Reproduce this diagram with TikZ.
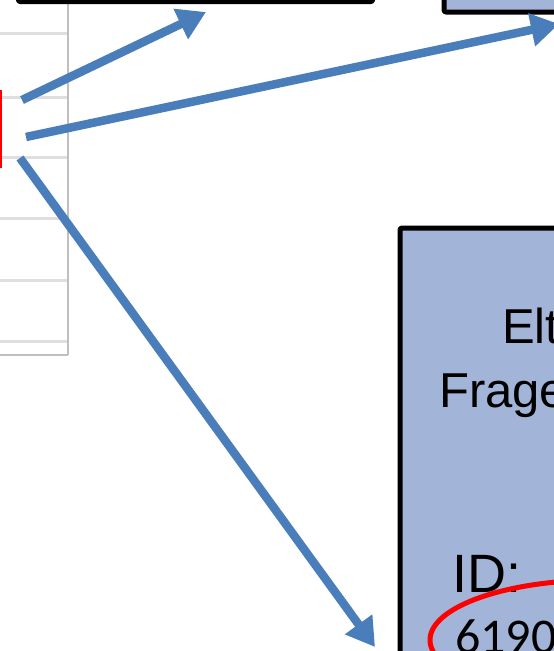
\documentclass[tikz,border=0pt]{standalone}
\usepackage{fontspec}
\setmainfont{Liberation Sans}
\newfontfamily\calibrifont{Carlito}
\usepackage{tikz}
\usetikzlibrary{arrows.meta,positioning}
\definecolor{boxblue}{HTML}{A2B4D8}
\definecolor{arrowblue}{HTML}{4A7EBB}

\begin{document}
\begin{tikzpicture}[x=1pt, y=-1pt, line join=round]
   \useasboundingbox (0,0) rectangle (554,651);
   \clip (0,0) rectangle (554,651);
   % table on the left
   \begin{scope}[gray!25, line width=3pt]
    \foreach \y in {33,97,157,218,280,341}
      \draw (0,\y) -- (68,\y);
   \end{scope}
   \draw[gray!50, line width=2pt] (0,355) -- (68,355) (68,0) -- (68,355);
   \draw[red, line width=2pt] (1,90) -- (1,168);
   % boxes
   \draw[line width=4pt, fill=white, rounded corners=2pt] (18,-20) rectangle (373,2);
   \draw[line width=5pt, fill=boxblue, rounded corners=2pt] (444,-20) rectangle (620,12);
   \draw[line width=5pt, fill=boxblue, rounded corners=2pt] (400,228) rectangle (620,700);
   \begin{scope}[every node/.style={inner sep=0pt, anchor=base west}]
    \node (elt)  at (502,343) {\fontsize{49}{49}\selectfont Elt};
    \node (frag) at (439,407) {\fontsize{49}{49}\selectfont Frage};
    \node (id)   at (452,592) {\fontsize{54}{54}\selectfont ID:};
    \node (num)  at (455,653) {\fontsize{50}{50}\selectfont\calibrifont 6190};
   \end{scope}
   \draw[red, line width=5pt] (600,640) ellipse [x radius=170pt, y radius=60pt];
   % arrows out of the cell
   \coordinate (cellA) at (22,100);
   \coordinate (cellB) at (26,137);
   \coordinate (cellC) at (20,158);
   \coordinate (topbox)   at (206,12);
   \coordinate (rightbox) at (559,24);
   \coordinate (idbox)    at (375,647);
   \begin{scope}[-{Triangle[length=28pt,width=32pt]}, every edge/.style={draw=arrowblue, line width=8.5pt}]
    \path (cellA) edge (topbox);
    \path (cellB) edge (rightbox);
    \path (cellC) edge (idbox);
   \end{scope}
\end{tikzpicture}
\end{document}
